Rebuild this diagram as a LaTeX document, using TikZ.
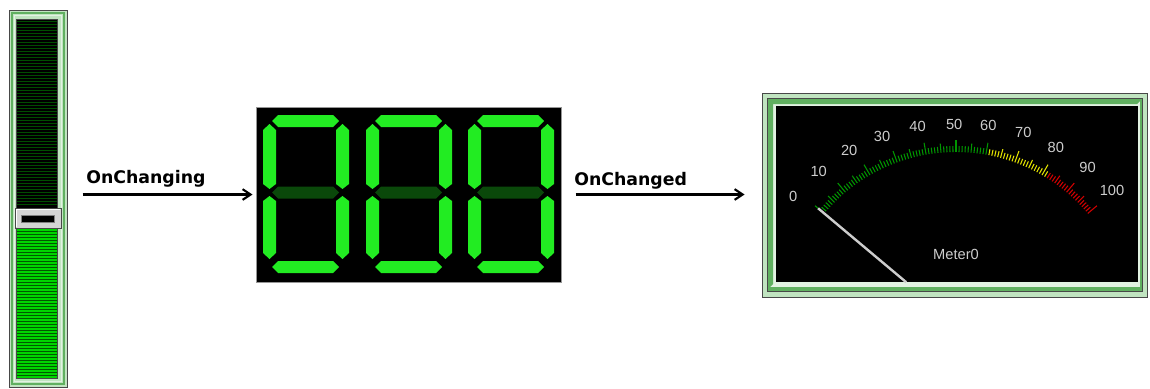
\documentclass[tikz,border=0pt]{standalone}
\usepackage{fontspec}
\setmainfont{Liberation Sans}
\newfontfamily\lblfont{DejaVu Sans}
\usetikzlibrary{arrows.meta}
\definecolor{ledon}{RGB}{34,236,34}
\definecolor{ledoff}{RGB}{10,72,10}
\definecolor{frgray}{RGB}{72,72,72}
\definecolor{frlight}{RGB}{192,228,192}
\definecolor{frmid}{RGB}{96,176,96}
\definecolor{frwhite}{RGB}{226,242,226}
\definecolor{dispgray}{RGB}{150,150,150}
\definecolor{trkdark}{RGB}{0,78,0}
\definecolor{trklow}{RGB}{0,88,0}
\definecolor{trkbright}{RGB}{0,212,0}
\definecolor{tgreen}{RGB}{0,150,0}
\definecolor{tyellow}{RGB}{226,226,0}
\definecolor{tred}{RGB}{210,0,0}
\definecolor{scaletext}{RGB}{205,205,205}
\definecolor{thumbgray}{RGB}{212,212,212}
\newcommand\drawdigit[1]{%
  \begin{scope}[shift={(#1,115)}]
    \fill[ledon] (9,6) -- (15,0) -- (70,0) -- (76,6) -- (70,12) -- (15,12) -- cycle;
    \fill[ledoff] (9,77.5) -- (15,71.5) -- (70,71.5) -- (76,77.5) -- (70,83.5) -- (15,83.5) -- cycle;
    \fill[ledon] (9,152) -- (15,146) -- (70,146) -- (76,152) -- (70,158) -- (15,158) -- cycle;
    \foreach \dx in {0,73} {
      \fill[ledon] (\dx+6.5,9) -- (\dx+13,15) -- (\dx+13,69) -- (\dx+6.5,74) -- (\dx+0,69) -- (\dx+0,15) -- cycle;
      \fill[ledon] (\dx+6.5,81) -- (\dx+13,86) -- (\dx+13,138) -- (\dx+6.5,144) -- (\dx+0,138) -- (\dx+0,86) -- cycle;
    }
  \end{scope}}
\begin{document}
\begin{tikzpicture}[x=0.75pt,y=-0.75pt,
  px/.style={line width=0.75pt},
  conn/.style={line width=1.6pt,-{Straight Barb[length=6pt,width=8pt]}},
  evlabel/.style={font=\lblfont\bfseries\fontsize{13pt}{15pt}\selectfont,anchor=base west,inner sep=0pt},
  scalelbl/.style={font=\fontsize{11pt}{13pt}\selectfont,text=scaletext,inner sep=0pt},
  tick/.style={line width=0.8pt}]
\useasboundingbox (0,0) rectangle (1150,389);
\fill[white] (0,0) rectangle (1150,389);

% ---------- slider ----------
\node[px,draw=frgray,fill=frlight,minimum width=43.5pt,minimum height=282.75pt,inner sep=0pt] (slider) at (38,198.5) {};
\draw[frmid,line width=1.5pt] (12,13) rectangle (64,384);
\draw[frwhite,px] (14.5,15.5) rectangle (61.5,381.5);
\draw[frgray,px,fill=black] (16.5,19.5) rectangle (57.5,378.5);
\foreach \yy in {21.5,24.5,...,207} \draw[trkdark,line width=1.2pt] (17,\yy) -- (57,\yy);
\fill[trklow] (17,228) rectangle (57,378);
\foreach \yy in {229.5,232.5,...,377} \draw[trkbright,line width=1.5pt] (17,\yy) -- (57,\yy);
\draw[px,draw=frgray,fill=thumbgray] (15,208) rectangle (61,228);
\draw[white,px] (16.5,227) -- (16.5,209.5) -- (60,209.5);
\draw[px,draw=gray,fill=black] (21,215) rectangle (54,222);

% ---------- display ----------
\node[px,draw=dispgray,fill=black,minimum width=228.75pt,minimum height=131.25pt,inner sep=0pt] (display) at (408.5,194.5) {};
\drawdigit{263}
\drawdigit{366}
\drawdigit{468}

% ---------- meter ----------
\node[px,draw=frgray,fill=frlight,minimum width=288.75pt,minimum height=153pt,inner sep=0pt] (meter) at (954.5,195) {};
\draw[px,draw=frgray,fill=frmid] (767.5,98.5) rectangle (1142.5,291.5);
\fill[frwhite] (770,101) rectangle (1140,287);
\fill[frmid] (770,101) -- (1140,101) -- (1137,104) -- (773,104) -- (773,284) -- (770,287) -- cycle;
\fill[black] (776,106) rectangle (1138,282);
\foreach \v in {0,...,100} {
  \pgfmathsetmacro\a{140-\v}
  \pgfmathsetmacro\len{(mod(\v,10)==0)?12:((mod(\v,5)==0)?9:6)}
  \ifnum\v<61 \def\tc{tgreen}\else\ifnum\v<82 \def\tc{tyellow}\else\def\tc{tred}\fi\fi
  \draw[tick,color=\tc] ({956+172*cos(\a)},{324-172*sin(\a)}) -- ({956+(172+\len)*cos(\a)},{324-(172+\len)*sin(\a)});
}
\draw[scaletext,line width=1.8pt] ({956+65*cos(140)},{324-65*sin(140)}) -- ({956+180*cos(140)},{324-180*sin(140)});
\node[scalelbl] (l0) at (793.3,196) {0};
\node[scalelbl] (l10) at (818.7,171.3) {10};
\node[scalelbl] (l20) at (849.2,150.5) {20};
\node[scalelbl] (l30) at (882,136.5) {30};
\node[scalelbl] (l40) at (917.5,126.5) {40};
\node[scalelbl] (l50) at (954.2,124.2) {50};
\node[scalelbl] (l60) at (988.3,125) {60};
\node[scalelbl] (l70) at (1023.3,132.5) {70};
\node[scalelbl] (l80) at (1055.8,147.5) {80};
\node[scalelbl] (l90) at (1087.5,167.5) {90};
\node[scalelbl] (l100) at (1112,190) {100};
\node[scalelbl] (mname) at (956,254) {Meter0};

% ---------- connectors ----------
\draw[conn,shorten <=11.25pt,shorten >=2.25pt] (slider.east |- display.west) -- (display.west);
\draw[conn,shorten <=10.5pt,shorten >=12.75pt] (display.east) -- (display.east -| meter.west);
\node[evlabel] (ev1) at (86,183) {OnChanging};
\node[evlabel] (ev2) at (574,185) {OnChanged};
\end{tikzpicture}
\end{document}
